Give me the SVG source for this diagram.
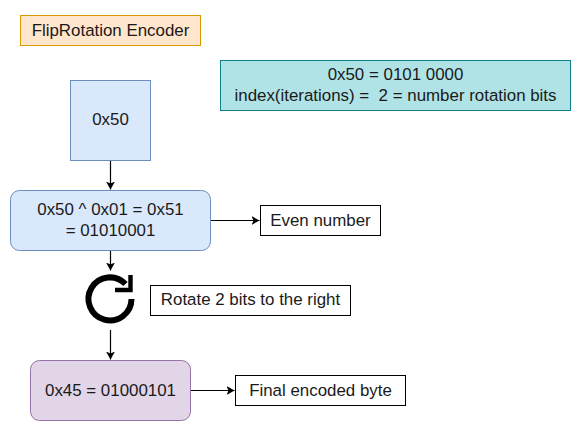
<svg xmlns="http://www.w3.org/2000/svg" width="581" height="431" viewBox="0 0 581 431">
<style>
text{font-family:"Liberation Sans",Arial,sans-serif;font-size:16.9px;fill:#1a1a1a;text-anchor:middle;white-space:pre}
.c{fill:none;stroke:#000;stroke-width:1.2;marker-end:url(#a)}
.w{fill:#fff;stroke:#000;stroke-width:1}
.b{fill:#dae8fc;stroke:#6c8ebf;stroke-width:1}
</style>
<defs><marker id="a" markerUnits="userSpaceOnUse" markerWidth="10" markerHeight="10" refX="8" refY="4.500" orient="auto"><path d="M0 0L8 4.500L0 9L2 4.500Z" fill="#000"/></marker></defs>
<rect width="581" height="431" fill="#fff"/>
<g id="title"><rect x="20.500" y="15.500" width="180" height="30" fill="#ffe6cc" stroke="#d79b00"/><text x="110.500" y="35.500">FlipRotation Encoder</text></g>
<g id="info"><rect x="220.500" y="60.500" width="350" height="50" fill="#b0e3e6" stroke="#0e8088"/><text x="395.500" y="80">0x50 = 0101 0000</text><text x="395.500" y="101">index(iterations) =  2 = number rotation bits</text></g>
<g id="input"><rect class="b" x="70.500" y="80.500" width="80" height="80"/><text x="110.500" y="125">0x50</text></g>
<g id="xor"><rect class="b" x="10.500" y="190.500" width="200" height="60" rx="9" ry="9"/><text x="110.500" y="215">0x50 ^ 0x01 = 0x51</text><text x="110.500" y="236">= 01010001</text></g>
<g id="even"><rect class="w" x="260.500" y="205.500" width="120" height="30"/><text x="320.500" y="225.500">Even number</text></g>
<g id="rotate-icon"><path d="M131.500 299A21.500 21.500 0 1 1 125.500 284" fill="none" stroke="#000" stroke-width="6"/><path d="M115 292.300H132.700V275H128.300V287.800H115Z" fill="#000"/></g>
<g id="rotate-label"><rect class="w" x="150.500" y="285.500" width="200" height="30"/><text x="250.500" y="305">Rotate 2 bits to the right</text></g>
<g id="result"><rect x="30.500" y="360.500" width="160" height="60" rx="9" ry="9" fill="#e1d5e7" stroke="#9673a6"/><text x="110.500" y="395.500">0x45 = 01000101</text></g>
<g id="final"><rect class="w" x="235.500" y="375.500" width="170" height="30"/><text x="320.500" y="395.500">Final encoded byte</text></g>
<g id="connectors">
<path class="c" d="M110.500 161V189.500"/>
<path class="c" d="M211 220.500H259.500"/>
<path class="c" d="M110.500 251V270.500"/>
<path class="c" d="M110.500 330V359.500"/>
<path class="c" d="M191 390.500H234.500"/>
</g>
</svg>
